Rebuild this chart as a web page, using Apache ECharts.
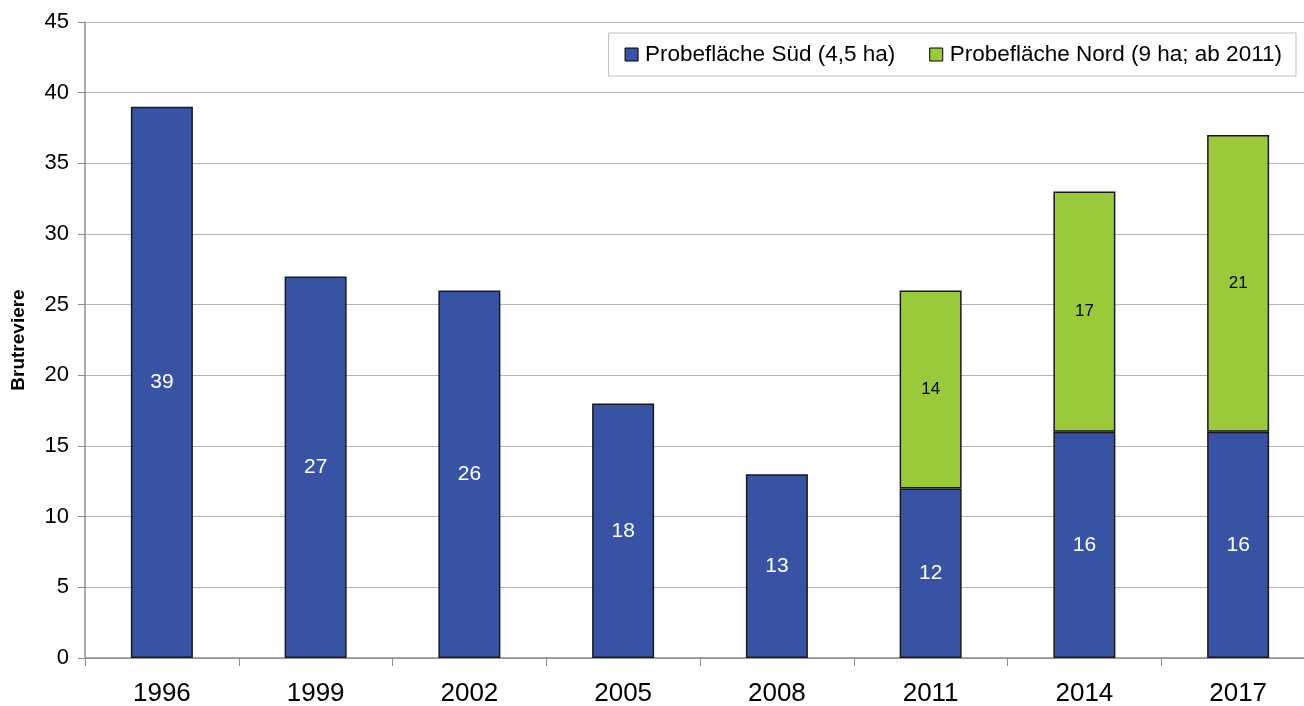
<!DOCTYPE html>
<html>
<head>
<meta charset="utf-8">
<script src="https://cdn.jsdelivr.net/npm/echarts@6/dist/echarts.min.js"></script>
<style>
  html, body { margin: 0; padding: 0; background: #fff; }
  #chart { width: 1304px; height: 706px; }
</style>
</head>
<body>
<div id="chart"></div>
<script>
  // Daten aus der Grafik
  let years = ['1996', '1999', '2002', '2005', '2008', '2011', '2014', '2017'];
  let sued = [39, 27, 26, 18, 13, 12, 16, 16];
  let nord = [null, null, null, null, null, 14, 17, 21];
  let yTicks = [0, 5, 10, 15, 20, 25, 30, 35, 40, 45];

  let chart = echarts.init(document.getElementById('chart'));
  let font = 'Liberation Sans, Arial, sans-serif';

  let option = {
    animation: false,
    textStyle: { fontFamily: font },
    grid: {
      left: 85,
      top: 22,
      width: 1230,
      height: 636,
      outerBoundsMode: 'none',
      containLabel: false
    },
    legend: {
      right: 8,
      top: 33,
      orient: 'horizontal',
      itemWidth: 13,
      itemHeight: 13,
      itemGap: 34,
      padding: [10, 14, 10, 16],
      borderColor: '#bfbfbf',
      borderWidth: 1,
      backgroundColor: '#fff',
      textStyle: { fontSize: 22.5, color: '#000', fontFamily: font, padding: [0, 0, 0, 2] },
      data: [
        { name: 'Probefläche Süd (4,5 ha)', icon: 'rect', itemStyle: { borderColor: '#000', borderWidth: 1 } },
        { name: 'Probefläche Nord (9 ha; ab 2011)', icon: 'rect', itemStyle: { borderColor: '#000', borderWidth: 1 } }
      ]
    },
    xAxis: {
      type: 'category',
      data: years,
      axisLine: { lineStyle: { color: '#8c8c8c', width: 1.5 } },
      axisTick: { show: true, length: 8, lineStyle: { color: '#8c8c8c' } },
      axisLabel: { fontSize: 26, color: '#000', margin: 23, fontFamily: font }
    },
    yAxis: {
      type: 'value',
      min: yTicks[0],
      max: yTicks[yTicks.length - 1],
      interval: 5,
      name: 'Brutreviere',
      nameLocation: 'middle',
      nameGap: 57,
      nameTextStyle: { fontSize: 19, fontWeight: 'bold', color: '#000', fontFamily: font },
      axisLine: { show: true, lineStyle: { color: '#8c8c8c', width: 1.5 } },
      axisTick: { show: true, length: 7, lineStyle: { color: '#8c8c8c' } },
      axisLabel: { fontSize: 22, color: '#000', margin: 16, fontFamily: font },
      splitLine: { lineStyle: { color: '#b3b3b3', width: 1 } }
    },
    series: [
      {
        name: 'Probefläche Süd (4,5 ha)',
        type: 'bar',
        stack: 'a',
        data: sued,
        barWidth: 62,
        itemStyle: { color: '#3953a4', borderColor: '#1a1a1a', borderWidth: 1.5 },
        label: { show: true, position: 'inside', color: '#fff', fontSize: 21, fontFamily: font }
      },
      {
        name: 'Probefläche Nord (9 ha; ab 2011)',
        type: 'bar',
        stack: 'a',
        data: nord,
        barWidth: 62,
        itemStyle: { color: '#9bc93c', borderColor: '#1a1a1a', borderWidth: 1.5 },
        label: { show: true, position: 'inside', color: '#000', fontSize: 17, fontFamily: font }
      }
    ]
  };
  chart.setOption(option);
</script>
</body>
</html>
